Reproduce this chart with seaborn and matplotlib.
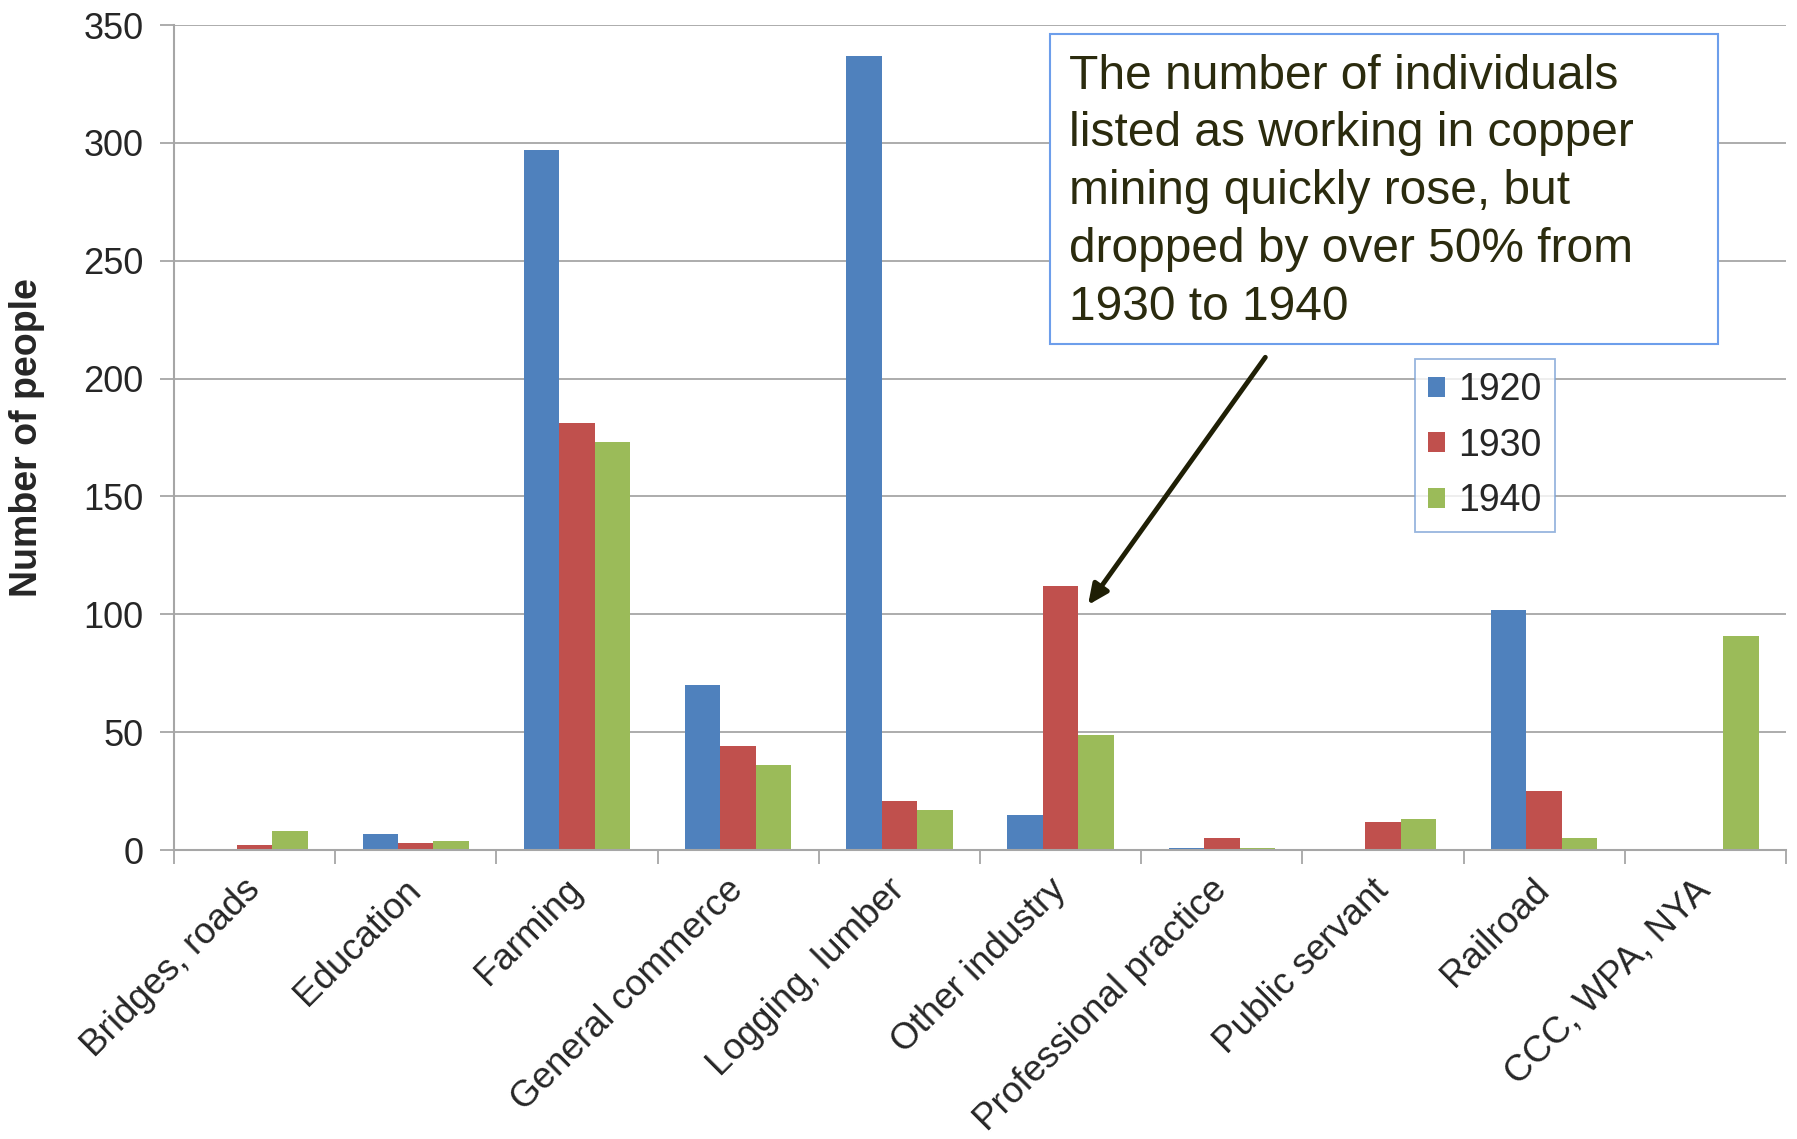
import matplotlib
matplotlib.use("Agg")
import matplotlib.pyplot as plt
from matplotlib.patches import Rectangle
from matplotlib.ticker import FixedLocator
import pandas as pd
import seaborn as sns

# Occupations of people listed in the census, by year
categories = [
    "Bridges, roads", "Education", "Farming", "General commerce",
    "Logging, lumber", "Other industry", "Professional practice",
    "Public servant", "Railroad", "CCC, WPA, NYA",
]
years = ["1920", "1930", "1940"]
counts_1920 = [0, 7, 297, 70, 337, 15, 1, 0, 102, 0]
counts_1930 = [2, 3, 181, 44, 21, 112, 5, 12, 25, 0]
counts_1940 = [8, 4, 173, 36, 17, 49, 1, 13, 5, 91]
colors = ["#4f81bd", "#c0504d", "#9bbb59"]

note = ("The number of individuals\nlisted as working in copper\n"
        "mining quickly rose, but\ndropped by over 50% from\n1930 to 1940")

# long-form table for seaborn
df = pd.DataFrame({
    "Occupation": categories * 3,
    "Year": [y for y in years for _ in categories],
    "People": counts_1920 + counts_1930 + counts_1940,
})

sns.set_style("white")
plt.rcParams["font.family"] = ["Liberation Sans", "DejaVu Sans"]

fig = plt.figure(figsize=(17.97, 11.39), dpi=100)
ax = fig.add_axes([0.0968, 0.2537, 0.8971, 0.7243])

sns.barplot(
    data=df, x="Occupation", y="People", hue="Year",
    order=categories, hue_order=years, palette=colors,
    width=0.66, saturation=1, errorbar=None, linewidth=0, ax=ax,
)

grid_color = "#a6a6a6"
ax.set_ylim(0, 350)
ax.set_xlim(-0.5, len(categories) - 0.5)
ax.set_yticks(range(0, 351, 50))
ax.yaxis.grid(True, color=grid_color, linewidth=1.3)
ax.set_axisbelow(True)
for side in ["top", "right"]:
    ax.spines[side].set_visible(False)
for side in ["left", "bottom"]:
    ax.spines[side].set_color(grid_color)
    ax.spines[side].set_linewidth(1.5)

ax.tick_params(axis="y", direction="out", length=10, width=1.3, color=grid_color,
               labelsize=26, pad=12, left=True)
# category separators as minor ticks, labels on the centres
ax.xaxis.set_minor_locator(FixedLocator([i - 0.5 for i in range(len(categories) + 1)]))
ax.tick_params(axis="x", which="minor", direction="out", length=10, width=1.3,
               color=grid_color, bottom=True)
ax.tick_params(axis="x", which="major", length=0, labelsize=26.5, pad=25)
ax.set_xticks(range(len(categories)))
ax.set_xticklabels(categories, rotation=45, ha="right", va="center",
                   rotation_mode="anchor")

ax.set_xlabel("")
ax.set_ylabel("Number of people", fontsize=27, fontweight="bold")
ax.yaxis.set_label_coords(-0.08, 0.5)

handles, labels = ax.get_legend_handles_labels()
ax.get_legend().remove()
leg = fig.legend(
    handles, labels, loc="upper left", bbox_to_anchor=(0.7874, 0.6848),
    bbox_transform=fig.transFigure, borderaxespad=0, fontsize=27,
    handlelength=0.45, handleheight=0.45, handletextpad=0.35,
    labelspacing=0.52, borderpad=0.35, frameon=True, fancybox=False,
)
leg.get_frame().set_edgecolor("#7ea3d6")
leg.get_frame().set_linewidth(1.3)

# annotation box
fig.add_artist(Rectangle((0.5843, 0.6980), 0.3717, 0.2722, transform=fig.transFigure,
                         facecolor="white", edgecolor="#6d9eeb", linewidth=1.5))
fig.text(0.5949, 0.953, note, fontsize=34.5, color="#2b2b0e", va="top", ha="left",
         linespacing=1.37)
ax.annotate(
    "", xy=(5.16, 103), xytext=(6.28, 210), xycoords="data",
    arrowprops=dict(arrowstyle="-|>,head_length=1.2,head_width=0.55",
                    color="#1f1f05", linewidth=3.5),
    annotation_clip=False,
)

fig.savefig("out.png", dpi=100, facecolor="white")
